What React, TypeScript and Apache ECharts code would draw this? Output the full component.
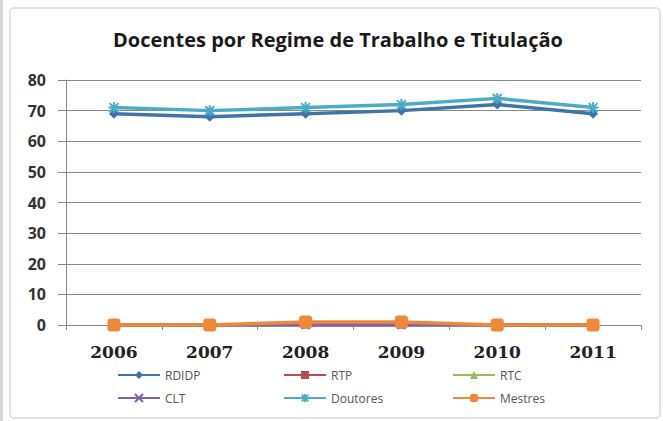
import React, { useEffect, useRef } from "react";
import * as echarts from "echarts";

const years = ["2006", "2007", "2008", "2009", "2010", "2011"];
const rdidp = [69, 68, 69, 70, 72, 69];
const rtp = [0, 0, 0, 0, 0, 0];
const rtc = [0, 0, 0, 0, 0, 0];
const clt = [0, 0, 0, 0, 0, 0];
const doutores = [71, 70, 71, 72, 74, 71];
const mestres = [0, 0, 1, 1, 0, 0];

const seriesDefs = [
  { name: "RDIDP", data: rdidp, color: "#3f74a8", symbol: "diamond", size: 10 },
  { name: "RTP", data: rtp, color: "#b94a48", symbol: "rect", size: 8 },
  { name: "RTC", data: rtc, color: "#9bbb59", symbol: "triangle", size: 8 },
  { name: "CLT", data: clt, color: "#8064a2", symbol: "path://M0,0 L10,10 M10,0 L0,10", size: 8 },
  { name: "Doutores", data: doutores, color: "#4bacc6", symbol: "path://M5,0 L5,10 M0,5 L10,5 M1,1 L9,9 M9,1 L1,9", size: 11 },
  { name: "Mestres", data: mestres, color: "#f0883a", symbol: "roundRect", size: 13 },
];

const legendPos = [
  { left: 117, top: 369 },
  { left: 283, top: 369 },
  { left: 452, top: 369 },
  { left: 117, top: 392 },
  { left: 283, top: 392 },
  { left: 452, top: 392 },
];

export default function App() {
  const ref = useRef<HTMLDivElement>(null);
  useEffect(() => {
    const chart = echarts.init(ref.current!, null, { renderer: "svg" });
    chart.setOption({
      animation: false,
      backgroundColor: "#ffffff",
      title: {
        text: "Docentes por Regime de Trabalho e Titulação",
        left: 338,
        textAlign: "center",
        top: 29,
        padding: 0,
        textStyle: { fontFamily: "Open Sans", fontSize: 20, fontWeight: "bold", color: "#1a1a1a" },
      },
      graphic: [
        {
          type: "rect",
          shape: { x: 10, y: 8, width: 650, height: 410, r: 4 },
          style: { fill: "none", stroke: "#d8d8d8", lineWidth: 1.5 },
          silent: true,
        },
        {
          type: "rect",
          shape: { x: 0, y: 0, width: 3, height: 421 },
          style: { fill: "#d4d4d4" },
          silent: true,
        },
      ],
      legend: seriesDefs.map((s, i) => ({
        data: [s.name],
        left: legendPos[i].left,
        top: legendPos[i].top,
        padding: 0,
        itemWidth: 42,
        itemHeight: 10,
        textStyle: { fontFamily: "Open Sans", fontSize: 12, color: "#555" },
        selectedMode: false,
      })),
      grid: { left: 66, right: 22, top: 80, bottom: 96, containLabel: false },
      xAxis: {
        type: "category",
        data: years,
        boundaryGap: true,
        axisLine: { lineStyle: { color: "#888", width: 1 } },
        axisTick: { show: true, alignWithLabel: false, length: 5, lineStyle: { color: "#888" } },
        axisLabel: {
          margin: 18,
          fontFamily: "DejaVu Serif",
          fontWeight: "bold",
          fontSize: 17,
          color: "#222",
        },
      },
      yAxis: {
        type: "value",
        min: 0,
        max: 80,
        interval: 10,
        axisLine: { show: true, lineStyle: { color: "#888" } },
        axisTick: { show: true, length: 8, lineStyle: { color: "#888" } },
        splitLine: { lineStyle: { color: "#8a8a8a", width: 1 } },
        axisLabel: {
          margin: 20,
          fontFamily: "Open Sans",
          fontWeight: "bold",
          fontSize: 16,
          color: "#333",
        },
      },
      series: seriesDefs.map((s) => ({
        name: s.name,
        type: "line",
        data: s.data,
        symbol: s.symbol,
        symbolSize: s.size,
        showAllSymbol: true,
        color: s.color,
        lineStyle: { width: 3.5, color: s.color },
        itemStyle: { color: s.color, borderColor: s.color, borderWidth: s.symbol.startsWith("path") ? 2 : 0 },
      })),
    });
    return () => chart.dispose();
  }, []);
  return (
    <div
      ref={ref}
      style={{ position: "absolute", left: 0, top: 0, width: 663, height: 421 }}
    />
  );
}
